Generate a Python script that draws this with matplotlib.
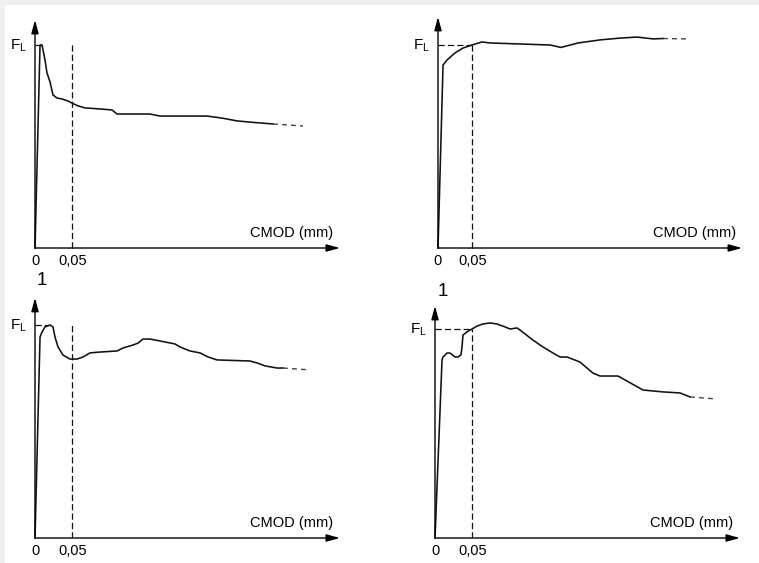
import matplotlib
matplotlib.use("Agg")
import matplotlib.pyplot as plt
from matplotlib.patches import Rectangle

plt.rcParams['font.family'] = ['Liberation Sans', 'DejaVu Sans']
plt.rcParams['mathtext.default'] = 'regular'

# datos: CMOD (mm) y carga relativa F/FL
cmod_a = [0, 0.0068, 0.0095, 0.0135, 0.0162, 0.0203, 0.0243, 0.0297, 0.0365, 0.0446,
          0.0500, 0.0581, 0.0676, 0.0878, 0.1041, 0.1108, 0.1554, 0.1689, 0.1824,
          0.2324, 0.2527, 0.2730, 0.2973, 0.3216]
force_a = [0, 1.0, 1.0, 0.926, 0.862, 0.818, 0.754, 0.739, 0.734, 0.724,
           0.714, 0.700, 0.690, 0.685, 0.680, 0.660, 0.660, 0.650, 0.650,
           0.650, 0.640, 0.626, 0.618, 0.611]
tail_a_x = [0.3216, 0.3622]
tail_a_y = [0.611, 0.601]

cmod_b = [0, 0.0074, 0.0132, 0.0250, 0.0368, 0.0500, 0.0647, 0.0765, 0.1206,
          0.1647, 0.1809, 0.2059, 0.2382, 0.2676, 0.2926, 0.3162, 0.3309]
force_b = [0, 0.901, 0.926, 0.961, 0.985, 1.0, 1.015, 1.010, 1.005,
           1.0, 0.988, 1.010, 1.025, 1.034, 1.039, 1.030, 1.032]
tail_b_x = [0.3309, 0.3662]
tail_b_y = [1.032, 1.030]

cmod_c = [0, 0.0068, 0.0095, 0.0135, 0.0203, 0.0243, 0.0270, 0.0311, 0.0378, 0.0473,
          0.0568, 0.0649, 0.0743, 0.0878, 0.1108, 0.1189, 0.1324, 0.1392, 0.1459,
          0.1554, 0.1689, 0.1892, 0.1959, 0.2095, 0.2230, 0.2338, 0.2459, 0.2905,
          0.3000, 0.3108, 0.3270, 0.3351]
force_c = [0, 0.944, 0.967, 0.991, 1.0, 0.991, 0.944, 0.897, 0.859, 0.840,
           0.840, 0.850, 0.869, 0.873, 0.878, 0.892, 0.906, 0.915, 0.934,
           0.934, 0.925, 0.911, 0.897, 0.878, 0.869, 0.850, 0.836, 0.831,
           0.822, 0.808, 0.798, 0.798]
tail_c_x = [0.3351, 0.3716]
tail_c_y = [0.798, 0.789]

cmod_d = [0, 0.0095, 0.0108, 0.0162, 0.0203, 0.0270, 0.0311, 0.0351, 0.0365, 0.0378,
          0.0432, 0.0500, 0.0568, 0.0649, 0.0743, 0.0838, 0.0946, 0.1014, 0.1108,
          0.1149, 0.1324, 0.1459, 0.1595, 0.1689, 0.1784, 0.1959, 0.2135, 0.2230,
          0.2473, 0.2811, 0.3081, 0.3311, 0.3446]
force_d = [0, 0.852, 0.866, 0.885, 0.885, 0.866, 0.866, 0.876, 0.914, 0.971,
           0.986, 1.0, 1.014, 1.024, 1.029, 1.024, 1.010, 1.0, 1.005,
           0.995, 0.947, 0.914, 0.885, 0.866, 0.866, 0.842, 0.789, 0.775,
           0.775, 0.708, 0.699, 0.694, 0.675]
tail_d_x = [0.3446, 0.3811]
tail_d_y = [0.675, 0.665]

tick_labels = ['0', '0,05']
tick_pos = [0, 0.05]
x_label = 'CMOD (mm)'
y_label = 'F$_L$'

W, H = 759, 563
fig = plt.figure(figsize=(W / 100, H / 100), dpi=100, facecolor='#efefef')
fig.patches.append(Rectangle((5 / W, 0), 1, 1 - 5 / H, transform=fig.transFigure,
                             facecolor='white', edgecolor='none', zorder=-10))

# (serie x, serie y, cola x, cola y, origen px, px/mm, px por FL, fin eje x, fin eje y, fin linea FL, tope linea 0,05)
panels = [
    (cmod_a, force_a, tail_a_x, tail_a_y, (35, 248), 740, 203, 0.412, 1.123, 0.0095, 1.01),
    (cmod_b, force_b, tail_b_x, tail_b_y, (438, 248), 680, 203, 0.447, 1.138, 0.05, 1.0),
    (cmod_c, force_c, tail_c_x, tail_c_y, (35, 538), 740, 213, 0.412, 1.127, 0.0203, 1.009),
    (cmod_d, force_d, tail_d_x, tail_d_y, (435, 538), 740, 209, 0.412, 1.110, 0.05, 1.0),
]

for x, y, tx, ty, (ox, oy), sx, sy, xend, yend, fl_end, vtop in panels:
    ax = fig.add_axes([0, 0, 1, 1])
    ax.set_xlim(-ox / sx, (W - ox) / sx)
    ax.set_ylim(-(H - oy) / sy, oy / sy)
    ax.axis('off')
    ax.patch.set_alpha(0)

    arrow = dict(arrowstyle='-|>,head_length=0.8,head_width=0.22', color='k',
                 lw=1.0, shrinkA=0, shrinkB=0, mutation_scale=10)
    ax.annotate('', xy=(xend, 0), xytext=(0, 0), arrowprops=arrow)
    ax.annotate('', xy=(0, yend), xytext=(0, 0), arrowprops=arrow)

    ax.plot(x, y, color='#111111', lw=1.15, solid_joinstyle='round')
    ax.plot(tx, ty, color='#444444', lw=1.0, dashes=(3.5, 3))
    ax.plot([0, fl_end], [1, 1], color='#111111', lw=0.9, dashes=(5, 2.5))
    ax.plot([0.05, 0.05], [0, vtop], color='#111111', lw=0.9, dashes=(5, 2.5))

    for t, p in zip(tick_labels, tick_pos):
        ax.annotate(t, xy=(p, 0), xytext=(1 if p else 0, -13), textcoords='offset pixels',
                    ha='center', va='center', fontsize=10.5)
    ax.annotate(x_label, xy=(0, 0), xytext=(257, 15), textcoords='offset pixels',
                ha='center', va='center', fontsize=10.5)
    ax.annotate(y_label, xy=(0, 1), xytext=(-8, -1), textcoords='offset pixels',
                ha='right', va='center', fontsize=11)

fig.text(42 / W, 1 - 280 / H, '1', ha='center', va='center', fontsize=13.5)
fig.text(443 / W, 1 - 291 / H, '1', ha='center', va='center', fontsize=13.5)

fig.savefig('out.png', dpi=100, facecolor=fig.get_facecolor())
